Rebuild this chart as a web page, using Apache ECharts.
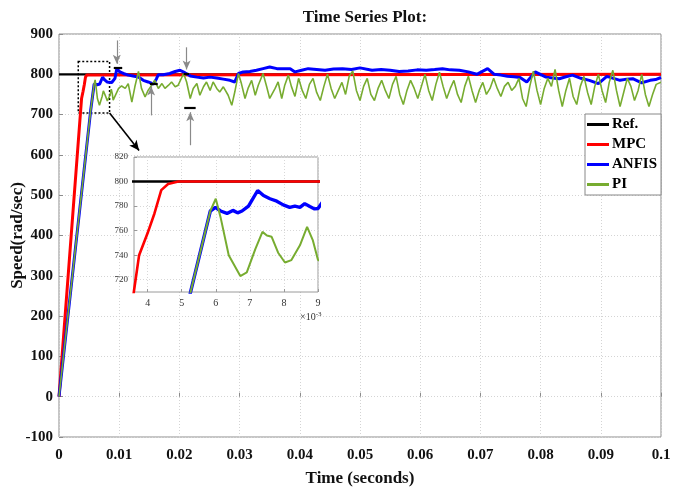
<!DOCTYPE html>
<html>
<head>
<meta charset="utf-8">
<script src="https://cdn.jsdelivr.net/npm/echarts@6/dist/echarts.min.js"></script>
<style>
  html, body { margin: 0; padding: 0; background: #fff; }
  #chart { width: 680px; height: 489px; }
</style>
</head>
<body>
<div id="chart"></div>
<script>
// Speed responses of the drive (time in seconds, speed in rad/sec)
const seriesNames = ['Ref.', 'MPC', 'ANFIS', 'PI'];

const refTime = [0, 0.1];
const refSpeed = [800, 800];

const mpcTime = [0, 0.0036, 0.00375, 0.0040, 0.0042, 0.0044, 0.0046, 0.0049, 0.1];
const mpcSpeed = [0, 711, 740, 758, 774, 793, 798, 800, 800];

const anfisTime = [0, 0.00526, 0.00584, 0.00599, 0.00614, 0.00633, 0.0065, 0.00664, 0.00677, 0.00696,
  0.00723, 0.0074, 0.00759, 0.00779, 0.00798, 0.00817, 0.00832, 0.00847, 0.00861, 0.00876, 0.0089, 0.009,
  0.0093, 0.0096, 0.0101, 0.0107, 0.0115, 0.0123, 0.0132, 0.014, 0.0148, 0.0157, 0.0162, 0.0165, 0.0173,
  0.0184, 0.0193, 0.0201, 0.0209, 0.0218, 0.0229, 0.024, 0.0251, 0.0262, 0.0273, 0.0284, 0.0292, 0.0298,
  0.0306, 0.0317, 0.0328, 0.0339, 0.035, 0.0362, 0.0373, 0.0384, 0.0392, 0.0403, 0.0414, 0.0428, 0.0442,
  0.0456, 0.0471, 0.0486, 0.05, 0.052, 0.0535, 0.055, 0.0565, 0.058, 0.0595, 0.061, 0.0624, 0.0637, 0.065,
  0.0665, 0.068, 0.0694, 0.0712, 0.0723, 0.0734, 0.0745, 0.0756, 0.0766, 0.0777, 0.0791, 0.0809, 0.082,
  0.0831, 0.0842, 0.0853, 0.0867, 0.0881, 0.0896, 0.091, 0.0921, 0.0932, 0.0943, 0.0953, 0.0968, 0.0982, 0.0991, 0.1];
const anfisSpeed = [0, 710, 776, 779, 776, 774, 776.5, 774.5, 776, 780,
  792.7, 788.6, 786, 784, 781, 779, 780, 779, 782, 779.6, 777.7, 778,
  790, 814, 806, 802, 798, 796, 793, 785, 781, 776, 789, 799, 799,
  802, 807, 810, 804, 796, 793, 791, 793, 791, 788, 785, 781, 802,
  806, 807, 810, 814, 818, 814, 814, 814, 806, 810, 814, 812, 810,
  813, 814, 812, 816, 810, 812, 810, 807, 808, 811, 810, 812, 814, 811,
  810, 806, 800, 814, 800, 798, 795, 794, 792, 781, 806, 793, 791,
  789, 794, 798, 790, 785, 777, 795, 790, 785, 788, 789, 779, 785, 787, 792];

const piTime = [0, 0.00526, 0.00584, 0.006, 0.00614, 0.00638, 0.00672, 0.00691, 0.00716, 0.00737, 0.0075,
  0.00764, 0.00783, 0.00803, 0.00822, 0.00847, 0.00868, 0.00885, 0.009,
  0.0093, 0.0099, 0.0104, 0.011, 0.0115, 0.0121, 0.0126, 0.0132, 0.0137, 0.0143, 0.0148, 0.0154, 0.0159,
  0.0165, 0.0171, 0.0176, 0.0182, 0.0187, 0.0193, 0.0198, 0.0207, 0.0212, 0.0218, 0.0223, 0.0229, 0.0234,
  0.024, 0.0245, 0.0251, 0.0256, 0.0262, 0.0267, 0.0273, 0.0281, 0.0287, 0.0292, 0.0298, 0.0303, 0.0309,
  0.0314, 0.032, 0.0326, 0.0331, 0.0339, 0.0345, 0.035, 0.0359, 0.0364, 0.037, 0.0375, 0.0381,
  0.0386, 0.0392, 0.0398, 0.0404, 0.041, 0.0416, 0.0422, 0.0428, 0.0434, 0.044, 0.0446, 0.0452, 0.0458,
  0.0464, 0.047, 0.0476, 0.0482, 0.0488, 0.0494, 0.05, 0.0506, 0.0512, 0.0518, 0.0524, 0.053, 0.0536,
  0.0542, 0.0548, 0.0554, 0.056, 0.0566, 0.0572, 0.0578, 0.0584, 0.059, 0.0596, 0.0602, 0.0608, 0.0614,
  0.062, 0.0626, 0.0632, 0.0638, 0.0644, 0.065, 0.0656, 0.0662, 0.0668, 0.0674, 0.068, 0.0686, 0.0692,
  0.0698, 0.0704, 0.071, 0.0716, 0.0722, 0.0728, 0.0734, 0.074, 0.0746, 0.0752, 0.0758, 0.0764, 0.077,
  0.0776, 0.0782, 0.0788, 0.0794, 0.08, 0.0806, 0.0812, 0.0818, 0.0824, 0.083, 0.0836, 0.0842, 0.0848,
  0.0854, 0.086, 0.0866, 0.0872, 0.0878, 0.0884, 0.089, 0.0896, 0.0902, 0.0908, 0.0914, 0.092, 0.0926,
  0.0932, 0.0938, 0.0944, 0.095, 0.0956, 0.0962, 0.0968, 0.0974, 0.098, 0.0986, 0.0992, 0.1];
const piSpeed = [0, 710, 776, 786, 771, 740, 723, 726, 745, 759, 756,
  755, 742, 734, 736, 748, 763, 752, 736,
  735, 765, 771, 765, 777, 731, 769, 807, 765, 744, 760, 773, 785,
  765, 777, 765, 773, 781, 769, 773, 802, 781, 740, 765, 777, 748,
  769, 781, 760, 781, 765, 756, 769, 748, 723, 756, 802, 777, 740,
  765, 785, 748, 773, 802, 769, 740, 765, 781, 740, 773, 798,
  770, 745, 790, 760, 740, 775, 790, 755, 735, 770, 800, 765, 740,
  760, 780, 750, 795, 808, 760, 735, 770, 790, 750, 735, 765, 785,
  760, 740, 775, 795, 750, 725, 760, 785, 765, 740, 770, 800, 760,
  735, 775, 805, 770, 740, 765, 785, 750, 730, 770, 795, 760, 730,
  760, 780, 750, 765, 790, 765, 745, 770, 780, 760, 770, 790, 740,
  720, 770, 808, 760, 725, 765, 790, 770, 812, 760, 720, 760, 790,
  745, 725, 770, 795, 755, 725, 770, 800, 760, 730, 780, 810, 760,
  720, 755, 790, 770, 735, 760, 800, 750, 720, 750, 775, 780];

// Axis ticks
const zoomTimeTicks = [0.004, 0.005, 0.006, 0.007, 0.008, 0.009];
const zoomSpeedTicks = [720, 740, 760, 780, 800, 820];

// Annotation marks: vertical arrows [t, fromSpeed, toSpeed], level bars [t0, t1, speed]
const arrowMarks = [[0.0096, 884, 826], [0.0153, 698, 770], [0.0212, 867, 812], [0.0218, 624, 706]];
const barMarks = [[0.0091, 0.0105, 816], [0.0151, 0.0164, 777], [0.0207, 0.0216, 801], [0.0208, 0.0227, 717]];
const zoomBox = [[0.0032, 832], [0.0084, 704]];
const zoomPointer = [[0.0084, 704], [0.0133, 611]];

const colors = { 'Ref.': '#000000', 'MPC': '#ff0000', 'ANFIS': '#0000ff', 'PI': '#77ac30' };
const pairs = (t, v) => t.map((x, i) => [x, v[i]]);
const serif = 'Liberation Serif';

const mainWidths = { 'Ref.': 2.2, 'MPC': 3, 'ANFIS': 3, 'PI': 1.6 };
const zoomWidths = { 'Ref.': 2.4, 'MPC': 2.6, 'ANFIS': 3.4, 'PI': 2 };
const seriesData = {
  'Ref.': pairs(refTime, refSpeed),
  'MPC': pairs(mpcTime, mpcSpeed),
  'ANFIS': pairs(anfisTime, anfisSpeed),
  'PI': pairs(piTime, piSpeed)
};

const lineSeries = (name, idx, widths) => ({
  name, type: 'line', xAxisIndex: idx, yAxisIndex: idx,
  data: seriesData[name], symbol: 'none', smooth: false, clip: true,
  lineStyle: { color: colors[name], width: widths[name] },
  itemStyle: { color: colors[name] },
  animation: false, z: idx === 0 ? 2 : 10
});

const series = [];
seriesNames.forEach(n => series.push(lineSeries(n, 0, mainWidths)));
seriesNames.forEach(n => series.push(lineSeries(n, 1, zoomWidths)));

// Annotations drawn in data coordinates of the main axes
series.push({
  type: 'line', xAxisIndex: 0, yAxisIndex: 0, data: [], silent: true, animation: false, z: 5,
  markLine: {
    silent: true, animation: false, label: { show: false },
    data: [
      ...arrowMarks.map(a => [
        { coord: [a[0], a[1]], symbol: 'none', lineStyle: { color: '#8a8a8a', width: 1.2, type: 'solid' } },
        { coord: [a[0], a[2]], symbol: 'arrow', symbolSize: [6, 9] }
      ]),
      ...barMarks.map(b => [
        { coord: [b[0], b[2]], symbol: 'none', lineStyle: { color: '#000', width: 2.2, type: 'solid' } },
        { coord: [b[1], b[2]], symbol: 'none' }
      ]),
      [
        { coord: zoomPointer[0], symbol: 'none', lineStyle: { color: '#000', width: 1.6, type: 'solid' } },
        { coord: zoomPointer[1], symbol: 'arrow', symbolSize: [7, 10] }
      ]
    ]
  },
  markArea: {
    silent: true, animation: false, label: { show: false },
    itemStyle: { color: 'rgba(0,0,0,0)', borderColor: '#000', borderWidth: 1.5, borderType: [2, 2] },
    data: [[{ coord: zoomBox[0] }, { coord: zoomBox[1] }]]
  }
});

const fmtTime = v => String(parseFloat(v.toFixed(3)));

const option = {
  backgroundColor: '#ffffff',
  animation: false,
  title: {
    text: 'Time Series Plot:', left: 360, top: 4, textAlign: 'center',
    textStyle: { fontFamily: serif, fontWeight: 'bold', fontSize: 17, color: '#111' }
  },
  legend: {
    data: seriesNames, orient: 'vertical', left: 585, top: 114,
    icon: 'rect', itemWidth: 22, itemHeight: 3, itemGap: 5,
    padding: [3, 4, 3, 2], borderColor: '#888', borderWidth: 1, backgroundColor: '#fff',
    textStyle: { fontFamily: serif, fontWeight: 'bold', fontSize: 15, color: '#000', padding: [0, 0, 0, -2] },
    selectedMode: false, z: 20
  },
  grid: [
    { left: 59, top: 34, width: 602, height: 403, show: true, borderColor: '#8c8c8c', borderWidth: 1,
      backgroundColor: '#fff', outerBoundsMode: 'none', containLabel: false },
    { left: 134, top: 157, width: 184, height: 135, show: true, borderColor: '#9a9a9a', borderWidth: 1,
      backgroundColor: '#fff', z: 8, outerBoundsMode: 'none', containLabel: false }
  ],
  xAxis: [
    {
      type: 'value', gridIndex: 0, min: 0, max: 0.1, interval: 0.01,
      name: 'Time (seconds)', nameLocation: 'middle', nameGap: 33, nameMoveOverlap: false,
      nameTextStyle: { fontFamily: serif, fontWeight: 'bold', fontSize: 17, color: '#111' },
      axisLine: { show: false },
      axisTick: { show: true, inside: true, length: 4, lineStyle: { color: '#8c8c8c' } },
      axisLabel: { fontFamily: serif, fontWeight: 'bold', fontSize: 15, color: '#111', margin: 11, formatter: fmtTime },
      splitLine: { show: true, lineStyle: { color: '#d4d4d4', type: [1, 2], width: 1 } }
    },
    {
      type: 'value', gridIndex: 1, min: 0.0036, max: 0.009,
      axisLine: { show: false },
      axisTick: { show: true, inside: true, length: 3, customValues: zoomTimeTicks, lineStyle: { color: '#999' } },
      axisLabel: { fontFamily: serif, fontSize: 10, color: '#333', margin: 6, customValues: zoomTimeTicks,
        formatter: v => String(Math.round(v * 1000)) },
      splitLine: { show: true, lineStyle: { color: '#d8d8d8', type: [1, 2], width: 1 } },
      z: 9
    }
  ],
  yAxis: [
    {
      type: 'value', gridIndex: 0, min: -100, max: 900, interval: 100,
      name: 'Speed(rad/sec)', nameLocation: 'middle', nameGap: 33, nameMoveOverlap: false,
      nameTextStyle: { fontFamily: serif, fontWeight: 'bold', fontSize: 17, color: '#111' },
      axisLine: { show: false },
      axisTick: { show: true, inside: true, length: 4, lineStyle: { color: '#8c8c8c' } },
      axisLabel: { fontFamily: serif, fontWeight: 'bold', fontSize: 15, color: '#111', margin: 6 },
      splitLine: { show: true, lineStyle: { color: '#d4d4d4', type: [1, 2], width: 1 } }
    },
    {
      type: 'value', gridIndex: 1, min: 710, max: 820,
      axisLine: { show: false },
      axisTick: { show: true, inside: true, length: 3, customValues: zoomSpeedTicks, lineStyle: { color: '#999' } },
      axisLabel: { fontFamily: serif, fontSize: 9, color: '#333', margin: 6, customValues: zoomSpeedTicks },
      splitLine: { show: true, lineStyle: { color: '#d8d8d8', type: [1, 2], width: 1 } },
      z: 9
    }
  ],
  graphic: [
    {
      type: 'text', left: 300, top: 311, z: 20,
      style: {
        text: '{b|×10}{s|-3}',
        rich: {
          b: { fontFamily: serif, fontSize: 10, fill: '#333' },
          s: { fontFamily: serif, fontSize: 7, fill: '#333', verticalAlign: 'top', padding: [0, 0, 5, 0] }
        }
      }
    }
  ],
  series
};

const chart = echarts.init(document.getElementById('chart'), null, { renderer: 'canvas' });
chart.setOption(option);
</script>
</body>
</html>
